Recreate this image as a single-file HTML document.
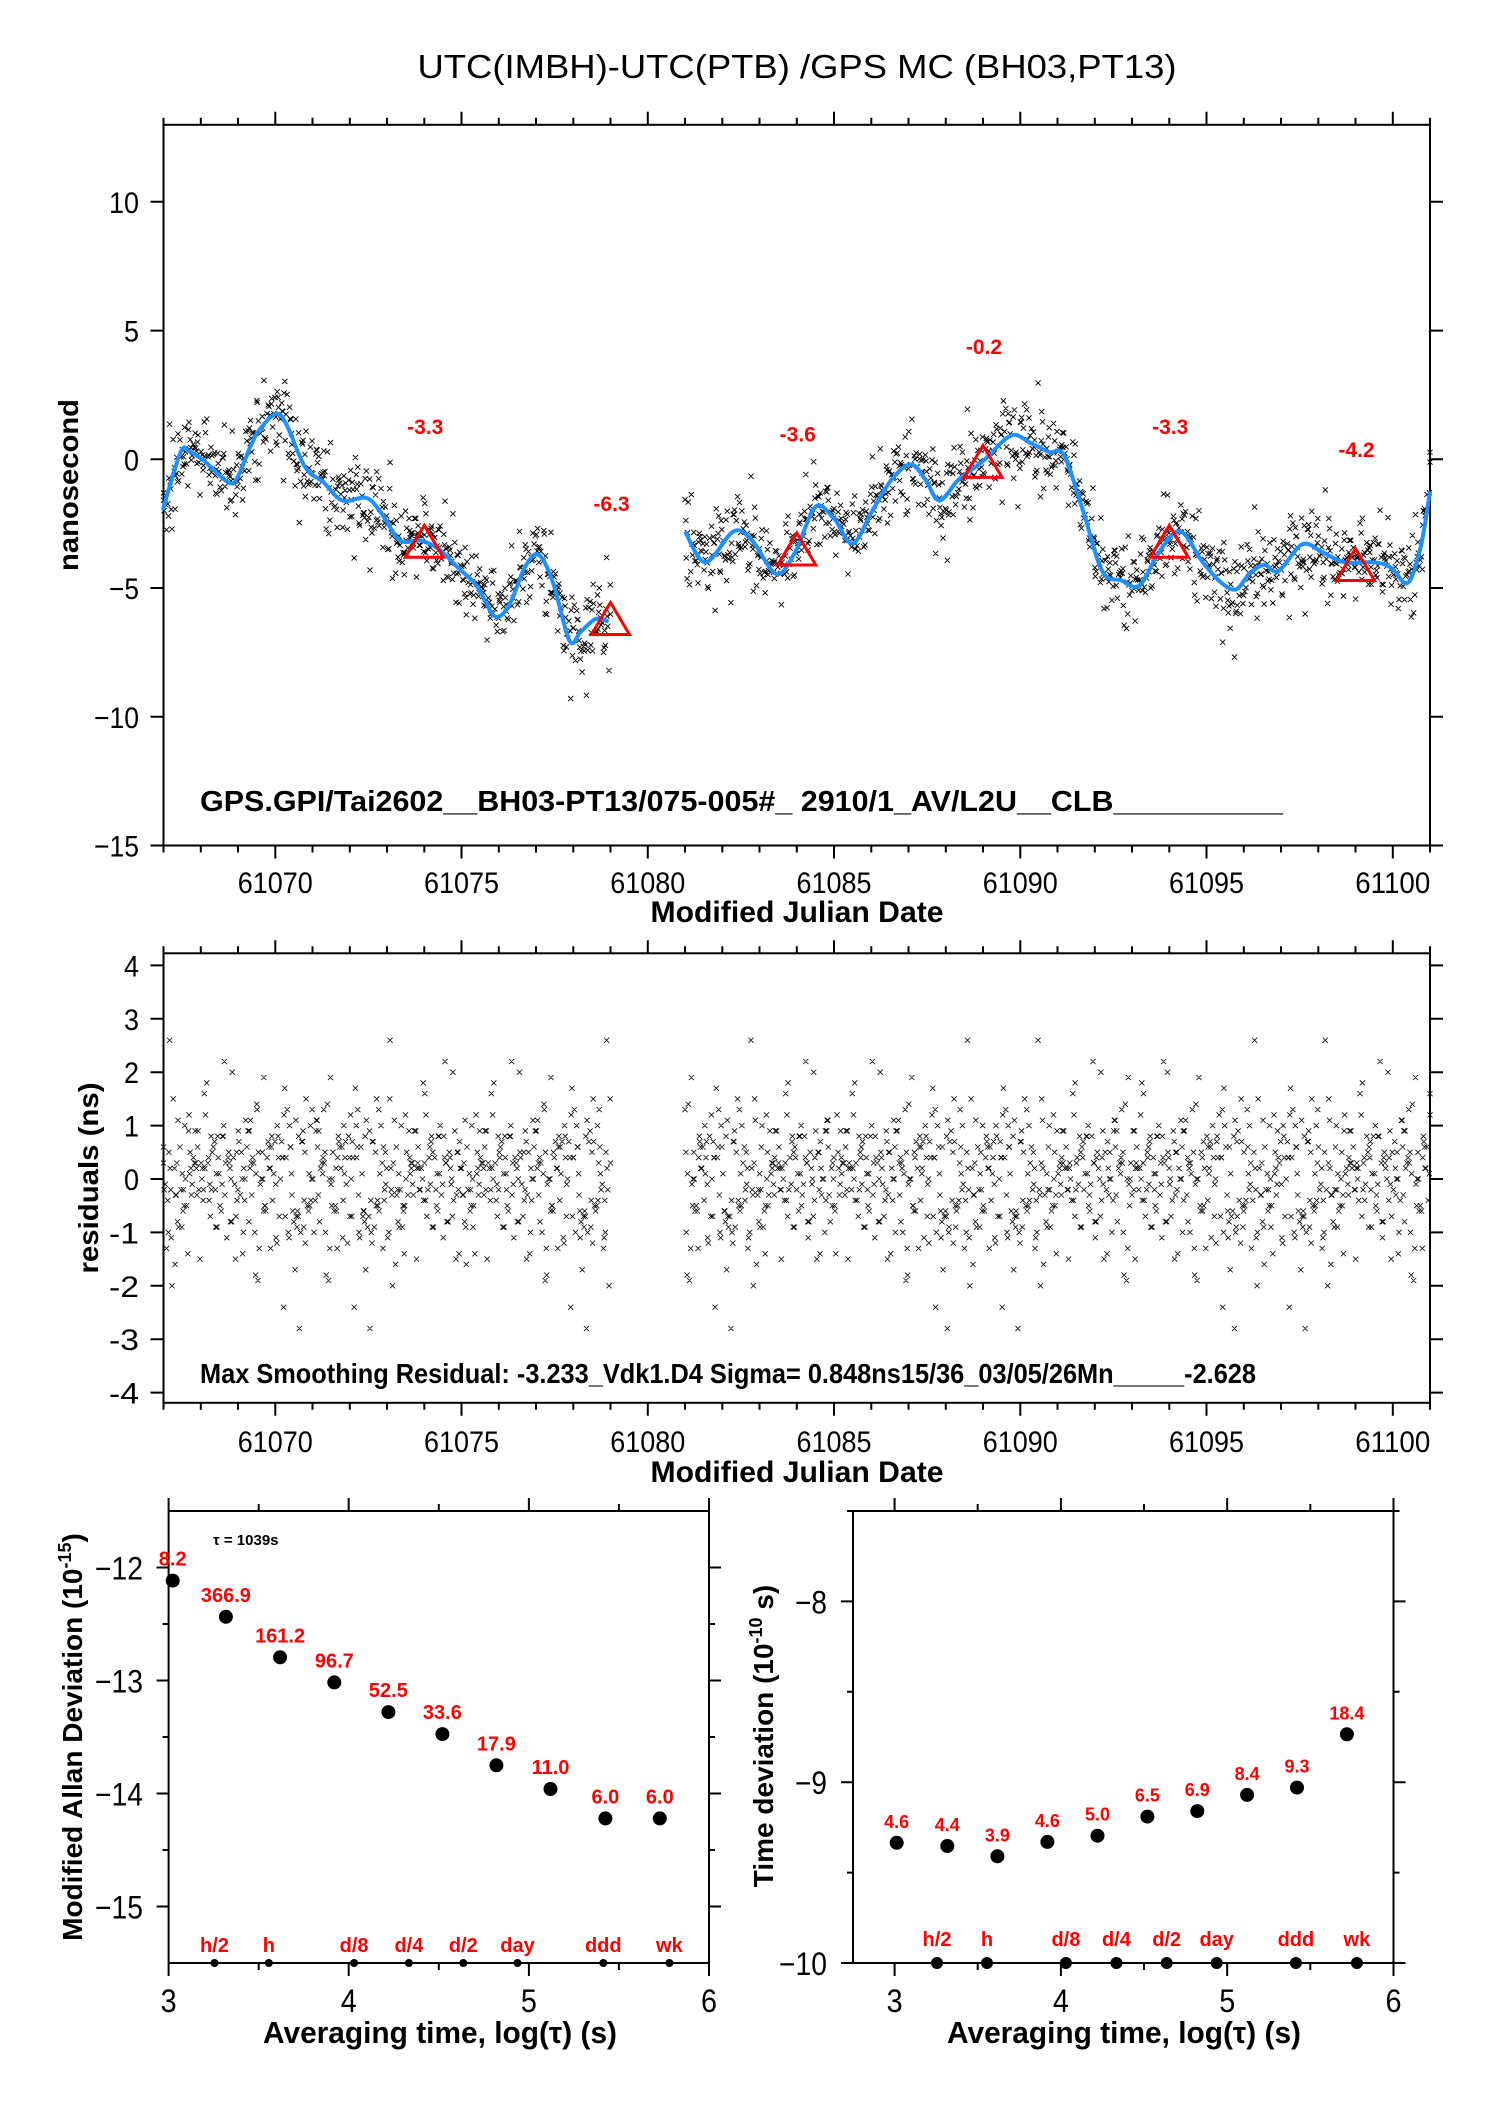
<!DOCTYPE html>
<html><head><meta charset="utf-8"><title>UTC(IMBH)-UTC(PTB) GPS MC</title>
<style>
html,body{margin:0;padding:0;background:#fff;}
svg{display:block;font-family:"Liberation Sans",Arial,sans-serif;}
</style></head>
<body>
<svg id="chart" width="1488" height="2105" viewBox="0 0 1488 2105" xmlns="http://www.w3.org/2000/svg">
<rect x="0" y="0" width="1488" height="2105" fill="#fff"/>
<text x="797" y="78" font-size="33" text-anchor="middle" textLength="759" lengthAdjust="spacingAndGlyphs">UTC(IMBH)-UTC(PTB)  /GPS  MC  (BH03,PT13)</text>
<g id="top"></g>
<g id="mid"></g>
<g id="bl"></g>
<g id="br"></g>
</svg>
<script>
// ---- Data ----
const smoothT = [61066.98,61067.46,61067.7,61068.1,61068.75,61069,61069.46,61070,61070.3,61070.8,61071.3,61071.8,61072.45,61072.85,61073.35,61073.9,61074.4,61074.9,61075.4,61075.9,61076.3,61076.7,61077.07,61077.46,61077.9,61078.2,61078.6,61078.95];
const smoothV = [-1.97,0.28,0.3,-0.07,-0.9,-0.66,0.88,1.75,1.35,-0.3,-0.9,-1.6,-1.5,-2.1,-3.15,-3.15,-3.5,-4.2,-4.9,-6.1,-5.6,-4.2,-3.7,-4.8,-7.05,-6.7,-6.2,-6.3];
const smoothT2 = [61081,61081.55,61082.3,61082.8,61083.45,61083.96,61084.5,61085,61085.5,61086.04,61086.55,61087.06,61087.45,61087.83,61088.35,61089,61089.75,61090.27,61090.78,61091.17,61091.68,61092.2,61092.7,61093.2,61093.73,61094.3,61094.9,61095.4,61095.8,61096.15,61096.55,61096.93,61097.57,61098.1,61098.7,61099.5,61099.95,61100.4,61100.75,61101];
const smoothV2 = [-2.8,-4.0,-2.8,-3.15,-4.45,-3.6,-1.85,-2.3,-3.27,-1.97,-0.78,-0.2,-0.78,-1.6,-0.78,-0.07,0.92,0.64,0.28,0.17,-1.97,-4.34,-4.7,-4.9,-3.6,-2.8,-4.0,-4.8,-5.05,-4.45,-4.1,-4.34,-3.3,-3.6,-4.0,-4.0,-4.2,-4.8,-3.4,-1.25];
const triT = [61074,61079,61084,61089,61094,61099];
const triV = [-3.3,-6.3,-3.6,-0.2,-3.3,-4.2];
const triLabels = ["-3.3","-6.3","-3.6","-0.2","-3.3","-4.2"];
const residuals = [0.3,-0.5,0.8,-0.2,0.1,-1.1,0.6,0.4,-0.7,1.2,-0.3,0.0,0.9,-0.9,0.2,-0.4,1.5,-1.3,0.5,-0.1,
0.7,-0.6,0.2,1.0,-0.8,-0.2,0.4,-1.5,0.9,0.1,-0.4,0.6,-1.0,0.3,1.8,-0.5,0.0,-0.9,0.5,0.8,
-0.3,1.1,-1.2,0.2,-0.6,0.4,0.7,-0.1,-1.7,0.9,0.3,-0.4,1.3,-0.7,0.1,0.5,-0.2,-1.0,0.6,2.2,
-0.8,0.0,0.4,-0.5,1.0,-1.4,0.3,0.8,-0.3,0.2,-0.9,1.4,-0.1,0.6,-0.6,0.1,-2.0,0.7,0.4,-0.2,
1.2,-0.4,0.5,-1.1,0.0,0.9,-0.7,0.3,1.6,-0.5,-0.1,0.6,-1.3,0.2,0.8,-0.3,0.4,-0.8,1.0,-2.4,
0.5,0.1,-0.6,1.1,-0.2,0.7,-1.0,0.3,-0.4,1.9,-0.9,0.2,0.6,-0.1,-1.6,0.8,0.0,-0.5,1.3,-0.3,
0.4,-0.7,0.9,0.2,-1.2,0.5,-0.2,1.0,-0.6,0.1,2.6,-0.4,0.3,-0.9,0.7,-0.1,-1.4,0.6,0.2,-0.3,
1.1,-0.8,0.0,0.5,-1.9,0.8,-0.2,0.4,-0.5,1.5,-1.1,0.3,0.1,-0.7,0.9,-0.3,0.6,-1.0,0.2,-2.8,
0.4,1.2,-0.6,0.0,0.7,-0.4,-1.3,1.0,0.3,-0.1,0.5,-0.9,1.7,-0.2,0.2,-0.8,0.6,-1.5,0.9,0.1,
-0.4,1.3,-0.5,0.4,-1.1,0.2,0.8,-0.3,-0.7,2.0,0.0,-1.0,0.5,0.3,-0.6,1.1,-0.2,0.7,-1.8,0.4];
const segStarts = [61067.0, 61081.0];
const segEnds = [61079.0, 61101.0];
const sampleStep = 0.02;
const mjdTicks = [61070,61075,61080,61085,61090,61095,61100];
const topYTicks = [10,5,0,-5,-10,-15];
const midYTicks = [4,3,2,1,0,-1,-2,-3,-4];
const adevX = [3.023,3.318,3.619,3.92,4.22,4.52,4.82,5.12,5.425,5.727];
const adevV = [-12.116,-12.436,-12.795,-13.017,-13.28,-13.474,-13.75,-13.96,-14.22,-14.22];
const adevLabels = ["8.2","366.9","161.2","96.7","52.5","33.6","17.9","11.0","6.0","6.0"];
const tdevX = [3.013,3.317,3.618,3.919,4.22,4.52,4.82,5.12,5.42,5.72];
const tdevV = [-9.335,-9.353,-9.41,-9.33,-9.296,-9.19,-9.16,-9.07,-9.03,-8.735];
const tdevLabels = ["4.6","4.4","3.9","4.6","5.0","6.5","6.9","8.4","9.3","18.4"];
const markerX = [3.255,3.556,4.03,4.334,4.636,4.937,5.413,5.78];
const markerLabels = ["h/2","h","d/8","d/4","d/2","day","ddd","wk"];
const logTicks = [3,4,5,6];
const adevYTicks = [-12,-13,-14,-15];
const tdevYTicks = [-8,-9,-10];

const NS = "http://www.w3.org/2000/svg";
function mk(parent, tag, attrs, text){
  const e = document.createElementNS(NS, tag);
  for (const k in attrs) e.setAttribute(k, attrs[k]);
  if (text !== undefined) e.textContent = text;
  parent.appendChild(e);
  return e;
}
// ---- Axis functions ----
const xTop = t => 163.5 + (t - 61067) / 34 * (1430 - 163.5);
const yTop = v => 459.3 - v * 25.75;
const yMid = v => 1179 - v * 53.4;
const xL = l => 168.6 + (l - 3) / 3 * (709 - 168.6);
const yL = v => 1511 + (-11.5 - v) * 113;
const xR = l => 853 + (l - 2.75) / 3.25 * (1393.5 - 853);
const yR = v => 1511 + (-7.5 - v) * 180.8;
const resIdx = k => (k * 73 + Math.floor(k / 200) * 11) % residuals.length;
const tJit = k => ((k * 37) % 9 - 4) * 0.012;

function interp(ts, vs, t){
  if (t <= ts[0]) return vs[0];
  for (let i = 1; i < ts.length; i++){
    if (t <= ts[i]){ const f = (t - ts[i-1]) / (ts[i] - ts[i-1]); return vs[i-1] + f * (vs[i] - vs[i-1]); }
  }
  return vs[vs.length-1];
}
function smoothPath(ts, vs, fx, fy){
  const p = ts.map((t,i)=>[fx(t), fy(vs[i])]);
  let d = "M" + p[0][0].toFixed(1) + "," + p[0][1].toFixed(1);
  for (let i = 0; i < p.length - 1; i++){
    const p0 = p[Math.max(0,i-1)], p1 = p[i], p2 = p[i+1], p3 = p[Math.min(p.length-1,i+2)];
    const c1 = [p1[0] + (p2[0]-p0[0])/6, p1[1] + (p2[1]-p0[1])/6];
    const c2 = [p2[0] - (p3[0]-p1[0])/6, p2[1] - (p3[1]-p1[1])/6];
    d += " C" + c1[0].toFixed(1)+","+c1[1].toFixed(1)+" "+c2[0].toFixed(1)+","+c2[1].toFixed(1)+" "+p2[0].toFixed(1)+","+p2[1].toFixed(1);
  }
  return d;
}
function xMarkPath(cx, cy, s){
  return "M"+(cx-s).toFixed(1)+","+(cy-s).toFixed(1)+"L"+(cx+s).toFixed(1)+","+(cy+s).toFixed(1)+"M"+(cx-s).toFixed(1)+","+(cy+s).toFixed(1)+"L"+(cx+s).toFixed(1)+","+(cy-s).toFixed(1);
}
function frame(g, x0, y0, x1, y1, name){
  const r = mk(g, "rect", {x:x0, y:y0, width:x1-x0, height:y1-y0, fill:"none", stroke:"#000", "stroke-width":2});
  
  
}
function tickLabel(g, x, y, txt, anchor, size, name){
  const w = txt.replace("−","-").length * size * 0.5;
  const t = mk(g, "text", {x:x, y:y, "font-size":size, "text-anchor":anchor, textLength:w.toFixed(0), lengthAdjust:"spacingAndGlyphs"}, txt);
  
  
  return t;
}
const fmt = v => (v < 0 ? "−" + Math.abs(v) : String(v));

function mjdAxis(g, yTopEdge, yBot, labelY, titleY){
  let d = "";
  for (let t = 61067; t <= 61101; t++){
    const x = xTop(t); const major = (t % 5 === 0); const L = major ? 13 : 7;
    d += "M"+x.toFixed(1)+","+yTopEdge+"v"+(-L)+"M"+x.toFixed(1)+","+yBot+"v"+L;
  }
  const tk = mk(g, "path", {d:d, stroke:"#000", "stroke-width":2, fill:"none"});
  
  
  mjdTicks.forEach(t => tickLabel(g, xTop(t), labelY, String(t), "middle", 30, "x-tick-label"));
  const tt = mk(g, "text", {x:797, y:titleY, "font-size":30, "font-weight":"bold", "text-anchor":"middle", textLength:293, lengthAdjust:"spacingAndGlyphs"}, "Modified Julian Date");
  
  
}
(function(){
  const g = document.getElementById("top");
  frame(g, 163.5, 124.8, 1430, 845.5, "plot-frame");
  mjdAxis(g, 124.8, 845.5, 893, 922);
  let d = "";
  topYTicks.forEach(v => { d += "M163.5,"+yTop(v).toFixed(1)+"h-13M1430,"+yTop(v).toFixed(1)+"h13"; });
  const yt = mk(g, "path", {d:d, stroke:"#000", "stroke-width":2});
  
  
  topYTicks.forEach(v => tickLabel(g, 139, yTop(v)+11, fmt(v), "end", 30, "y-tick-label"));
  const yl = mk(g, "text", {x:0, y:0, "font-size":28, "font-weight":"bold", "text-anchor":"middle", textLength:172, lengthAdjust:"spacingAndGlyphs", transform:"translate(78,485) rotate(-90)"}, "nanosecond");
  
  
  let sp = ""; let k = 0;
  for (let s = 0; s < segStarts.length; s++){
    const ts = s === 0 ? smoothT : smoothT2, vs = s === 0 ? smoothV : smoothV2;
    for (let t = segStarts[s]; t <= segEnds[s]; t += sampleStep){
      const tt = Math.min(segEnds[s], Math.max(segStarts[s], t + tJit(k)));
      const v = interp(ts, vs, tt) + residuals[resIdx(k)] * 0.95;
      sp += xMarkPath(xTop(tt), yTop(v), 2.6); k++;
    }
  }
  const sc = mk(g, "path", {d:sp, stroke:"#000", "stroke-width":0.9, fill:"none"});
  
  
  const l1 = mk(g, "path", {d:smoothPath(smoothT, smoothV, xTop, yTop), stroke:"#1e90ff", "stroke-width":4, fill:"none"});
  
  
  const l2 = mk(g, "path", {d:smoothPath(smoothT2, smoothV2, xTop, yTop), stroke:"#1e90ff", "stroke-width":4, fill:"none"});
  
  
  triT.forEach((t,i) => {
    const x = xTop(t), y = yTop(triV[i]);
    const tri = mk(g, "path", {d:"M"+x.toFixed(1)+","+(y-19).toFixed(1)+"L"+(x+19).toFixed(1)+","+(y+13).toFixed(1)+"L"+(x-19).toFixed(1)+","+(y+13).toFixed(1)+"Z", fill:"none", stroke:"#ff0000", "stroke-width":3});
    
    
    const lb = mk(g, "text", {x:x+1, y:yTop(triV[i]+4.6)+8, "font-size":21, "font-weight":"bold", fill:"#ff0000", "text-anchor":"middle"}, triLabels[i]);
    
    
  });
  const info = mk(g, "text", {x:200, y:811, "font-size":29, "font-weight":"bold", textLength:1083, lengthAdjust:"spacingAndGlyphs"}, "GPS.GPI/Tai2602__BH03-PT13/075-005#_  2910/1_AV/L2U__CLB__________");
  
  
})();
(function(){
  const g = document.getElementById("mid");
  frame(g, 163.5, 953.3, 1430, 1402.8, "plot-frame");
  mjdAxis(g, 953.3, 1402.8, 1452, 1482);
  let d = "";
  midYTicks.forEach(v => { d += "M163.5,"+yMid(v).toFixed(1)+"h-13M1430,"+yMid(v).toFixed(1)+"h13"; });
  const yt = mk(g, "path", {d:d, stroke:"#000", "stroke-width":2});
  
  
  midYTicks.forEach(v => tickLabel(g, 139, yMid(v)+11, v < 0 ? "-" + Math.abs(v) : String(v), "end", 30, "y-tick-label"));
  const yl = mk(g, "text", {x:0, y:0, "font-size":28, "font-weight":"bold", "text-anchor":"middle", textLength:191, lengthAdjust:"spacingAndGlyphs", transform:"translate(98,1178) rotate(-90)"}, "residuals (ns)");
  
  
  let sp = ""; let k = 0;
  for (let s = 0; s < segStarts.length; s++){
    for (let t = segStarts[s]; t <= segEnds[s]; t += sampleStep){
      const tt = Math.min(segEnds[s], Math.max(segStarts[s], t + tJit(k)));
      sp += xMarkPath(xTop(tt), yMid(residuals[resIdx(k)]), 2.6); k++;
    }
  }
  const sc = mk(g, "path", {d:sp, stroke:"#000", "stroke-width":0.8, fill:"none"});
  
  
  const info = mk(g, "text", {x:200, y:1383, "font-size":28, "font-weight":"bold", textLength:1056, lengthAdjust:"spacingAndGlyphs"}, "Max Smoothing Residual: -3.233_Vdk1.D4  Sigma= 0.848ns15/36_03/05/26Mn_____-2.628");
  
  
})();

function logPanel(g, fx, fy, x0, x1, y0, y1, yTicks, yMinor, xs, vs, labels, labelSize, markerR, markerLabelY, tickLabelRight){
  frame(g, x0, y0, x1, y1, "plot-frame");
  let d = "";
  for (let l = 3; l <= 6; l += 0.5){
    const x = fx(l); const L = (l % 1 === 0) ? 13 : 7;
    d += "M"+x.toFixed(1)+","+y0+"v"+(-L)+"M"+x.toFixed(1)+","+y1+"v"+L;
  }
  yMinor.forEach(v => { const L = (v % 1 === 0) ? 12 : 6; d += "M"+x0+","+fy(v).toFixed(1)+"h"+(-L)+"M"+x1+","+fy(v).toFixed(1)+"h"+L; });
  const tk = mk(g, "path", {d:d, stroke:"#000", "stroke-width":2});
  
  
  logTicks.forEach(l => tickLabel(g, fx(l), 2012, String(l), "middle", 32, "x-tick-label"));
  yTicks.forEach(v => tickLabel(g, tickLabelRight, fy(v)+12, fmt(v), "end", 32, "y-tick-label"));
  xs.forEach((l,i) => {
    const c = mk(g, "circle", {cx:fx(l).toFixed(1), cy:fy(vs[i]).toFixed(1), r:7, fill:"#000"});
    
    
    const t = mk(g, "text", {x:fx(l).toFixed(1), y:(fy(vs[i])-15).toFixed(1), "font-size":labelSize, "font-weight":"bold", fill:"#ff0000", "text-anchor":"middle"}, labels[i]);
    
    
  });
  markerX.forEach((l,i) => {
    const c = mk(g, "circle", {cx:fx(l).toFixed(1), cy:y1, r:markerR, fill:"#000"});
    
    
    const t = mk(g, "text", {x:fx(l).toFixed(1), y:markerLabelY, "font-size":20, "font-weight":"bold", fill:"#ff0000", "text-anchor":"middle"}, markerLabels[i]);
    
    
  });
}
(function(){
  const g = document.getElementById("bl");
  logPanel(g, xL, yL, 168.6, 709, 1511, 1963, adevYTicks, [-12,-12.5,-13,-13.5,-14,-14.5,-15], adevX, adevV, adevLabels, 20, 4, 1952, 143);
  const tau = mk(g, "text", {x:213, y:1545, "font-size":15, "font-weight":"bold"}, "τ = 1039s");
  
  
  const yl = mk(g, "text", {x:0, y:0, "font-size":28, "font-weight":"bold", "text-anchor":"middle", transform:"translate(82,1737) rotate(-90)"});
  
  
  yl.innerHTML = 'Modified Allan Deviation (10<tspan font-size="18" dy="-11">-15</tspan><tspan dy="11">)</tspan>';
  const xl = mk(g, "text", {x:440, y:2043, "font-size":31, "font-weight":"bold", "text-anchor":"middle", textLength:354, lengthAdjust:"spacingAndGlyphs"}, "Averaging time, log(τ) (s)");
  
  
})();
(function(){
  const g = document.getElementById("br");
  logPanel(g, xR, yR, 853, 1393.5, 1511, 1963, tdevYTicks, [-7.5,-8,-8.5,-9,-9.5,-10], tdevX, tdevV, tdevLabels, 18, 6, 1946, 827);
  const yl = mk(g, "text", {x:0, y:0, "font-size":28, "font-weight":"bold", "text-anchor":"middle", transform:"translate(773,1736) rotate(-90)"});
  
  
  yl.innerHTML = 'Time deviation (10<tspan font-size="18" dy="-11">-10</tspan><tspan dy="11"> s)</tspan>';
  const xl = mk(g, "text", {x:1124, y:2043, "font-size":31, "font-weight":"bold", "text-anchor":"middle", textLength:354, lengthAdjust:"spacingAndGlyphs"}, "Averaging time, log(τ) (s)");
  
  
})();
</script>
</body></html>
